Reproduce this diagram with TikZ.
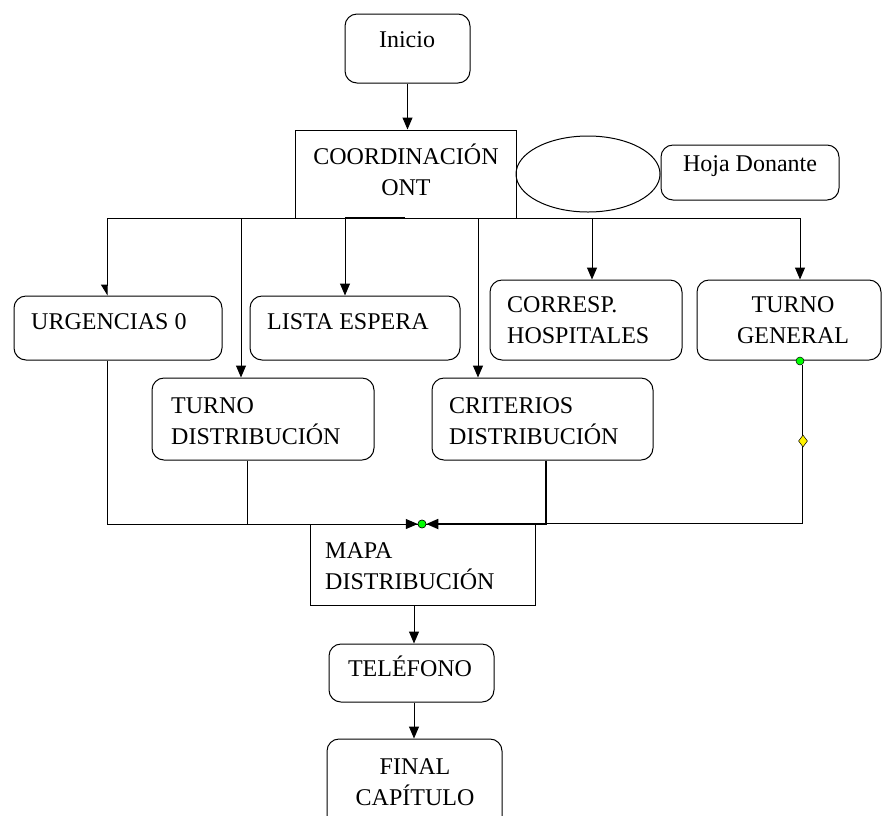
\documentclass[tikz,border=0pt]{standalone}
\usepackage{fontspec}
\setmainfont{Liberation Serif}
\usetikzlibrary{arrows.meta,shapes.geometric}
\begin{document}
\begin{tikzpicture}[x=1pt,y=-1pt,
  box/.style={draw, line width=1pt, rounded corners=12pt, inner sep=0pt},
  sqbox/.style={draw, line width=1pt, inner sep=0pt},
  txt/.style={font=\fontsize{24}{31}\selectfont, inner sep=0pt},
  ln/.style={line width=1pt},
  arr/.style={ln, -{Triangle[length=12pt,width=10pt]}},
  halfarr/.style={ln, -{Triangle[length=10pt,width=12pt,right]}},
  gdotstyle/.style={circle, draw, line width=0.5pt, fill=green, inner sep=0pt, minimum size=8pt},
  ydiastyle/.style={diamond, draw, line width=0.5pt, fill=yellow, inner sep=0pt, minimum width=9pt, minimum height=12pt}]
\useasboundingbox (0,0) rectangle (883,815);

% boxes
\node[box, minimum width=125pt, minimum height=69pt] (inicio) at (407.5,48.5) {};
\node[sqbox, minimum width=221pt, minimum height=88pt] (coord) at (405.5,174) {};
\node[ellipse, draw, line width=1pt, minimum width=144pt, minimum height=76pt] (ell) at (588,174) {};
\node[box, minimum width=178pt, minimum height=55pt] (hoja) at (750,172.5) {};
\node[box, minimum width=208pt, minimum height=64pt] (urg) at (118,328) {};
\node[box, minimum width=210pt, minimum height=64pt] (lista) at (355,328) {};
\node[box, minimum width=192pt, minimum height=80pt] (corr) at (586,320) {};
\node[box, minimum width=184pt, minimum height=80pt] (tgen) at (789,320) {};
\node[box, minimum width=222pt, minimum height=82pt] (tdist) at (263,419) {};
\node[box, minimum width=221pt, minimum height=82pt] (crit) at (542.5,419) {};
\node[sqbox, minimum width=225pt, minimum height=81pt] (mapa) at (422.5,564.5) {};
\node[box, minimum width=165pt, minimum height=58pt] (tel) at (411.5,673) {};
\node[box, minimum width=175pt, minimum height=92pt] (fin) at (414.5,785) {};

% labels
\node[txt] (t-inicio) at (407,40) {Inicio};
\node[txt, align=center] (t-coord) at (406,170) {COORDINACIÓN\\ONT};
\node[txt] (t-hoja) at (750,166) {Hoja Donante};
\node[txt, anchor=west] (t-urg) at (31,322) {URGENCIAS 0};
\node[txt, anchor=west] (t-lista) at (267,322) {LISTA ESPERA};
\node[txt, anchor=west, align=left] (t-corr) at (507,320) {CORRESP.\\HOSPITALES};
\node[txt, align=center] (t-tgen) at (793,320) {TURNO\\GENERAL};
\node[txt, anchor=west, align=left] (t-tdist) at (171,421) {TURNO\\DISTRIBUCIÓN};
\node[txt, anchor=west, align=left] (t-crit) at (449,421) {CRITERIOS\\DISTRIBUCIÓN};
\node[txt, anchor=west, align=left] (t-mapa) at (325,566) {MAPA\\DISTRIBUCIÓN};
\node[txt] (t-tel) at (410,666) {TELÉFONO};
\node[txt, align=center] (t-fin) at (415,782) {FINAL\\CAPÍTULO};

% branching bus under the coordination box
\coordinate (busL) at (107,218);
\coordinate (busR) at (800,218);
\coordinate (tapTD) at (241,218);
\coordinate (tapLE) at (345,218);
\coordinate (tapCR) at (478,218);
\coordinate (tapCO) at (592,218);
\coordinate (thkA) at (345,218);
\coordinate (thkB) at (405,218);

\draw[arr] (inicio.south) -- (inicio.south |- coord.north);
\draw[ln] (busL) -- (busR);
\draw[line width=2.4pt] (thkA) -- (thkB);
\draw[halfarr] (busL) -- (busL |- urg.north);
\draw[arr] (tapTD) -- (tapTD |- tdist.north);
\draw[arr] (tapLE) -- (tapLE |- lista.north);
\draw[arr] (tapCR) -- (tapCR |- crit.north);
\draw[arr] (tapCO) -- (tapCO |- corr.north);
\draw[arr] (busR) -- (busR |- tgen.north);

% merge into the distribution map
\coordinate (mL) at (107,524);
\coordinate (mTD) at (247,524);
\coordinate (mCR) at (546,524);
\coordinate (mTG) at (802,523);
\coordinate (mTGin) at (546,523);
\node[gdotstyle] (jdot) at (422,524) {};
\node[gdotstyle] (gdot) at (800,361) {};

\draw[arr] (urg.south -| mL) -- (mL) -- (jdot.west);
\draw[ln] (tdist.south -| mTD) -- (mTD);
\draw[ln] (gdot.south -| mTG) -- (mTG) -- (mTGin);
\draw[ln, line width=1.8pt, -{Triangle[length=12pt,width=10pt]}] (crit.south -| mCR) -- (mCR) -- (jdot.east);
\node[ydiastyle] (ydia) at (803,441) {};
\node[gdotstyle] at (jdot) {};

% lower chain
\coordinate (vx) at (414,0);
\draw[arr] (mapa.south -| vx) -- (tel.north -| vx);
\draw[arr] (tel.south -| vx) -- (fin.north -| vx);
\end{tikzpicture}
\end{document}
